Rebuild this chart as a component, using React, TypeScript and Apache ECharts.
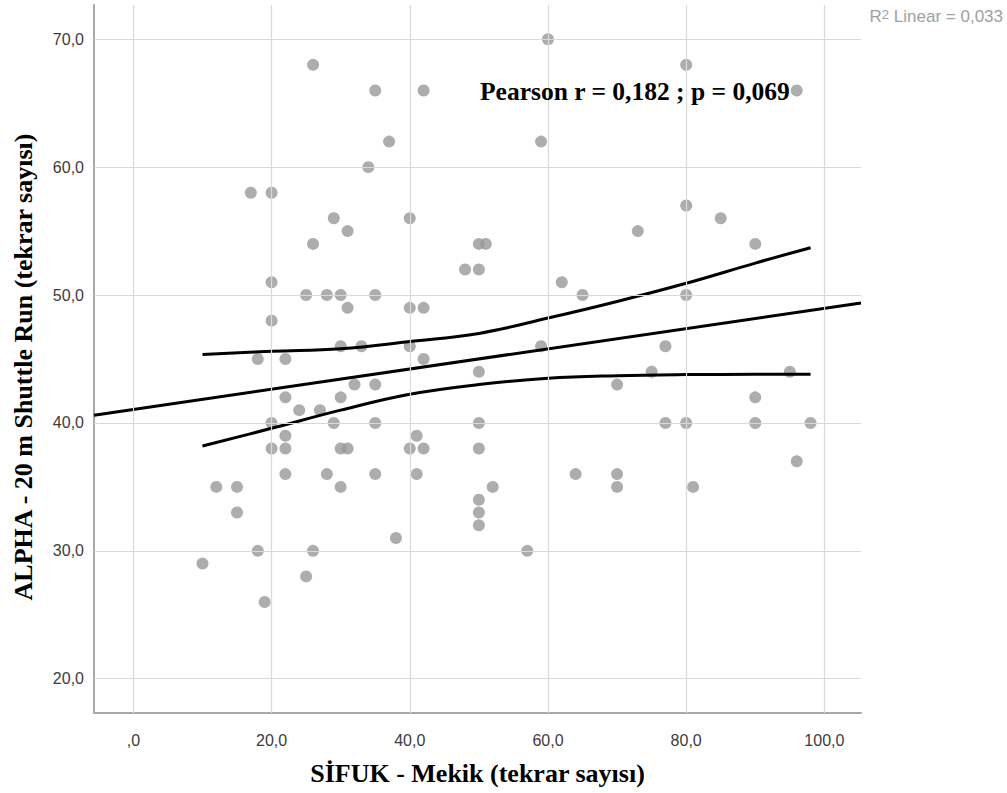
import React, { useEffect, useRef } from "react";
import * as echarts from "echarts";

// Scatter data: SİFUK - Mekik (x) vs ALPHA - 20 m Shuttle Run (y)
const pointsX = [
  26, 35, 42, 37, 34, 17, 20, 29, 31, 26, 40, 50, 51, 48, 50, 20, 25, 28, 30, 35,
  31, 40, 42, 20, 30, 33, 40, 18, 22, 42, 50, 60, 80, 96, 59, 80, 85, 73, 90, 62,
  65, 80, 59, 77, 75, 95, 32, 35, 22, 30, 24, 27, 20, 29, 35, 50, 22, 41, 20, 22,
  30, 31, 40, 42, 50, 22, 28, 35, 41, 12, 15, 30, 52, 15, 50, 50, 50, 38, 18, 26,
  10, 25, 19, 70, 90, 77, 80, 90, 98, 96, 64, 70, 70, 81, 57,
];
const pointsY = [
  68, 66, 66, 62, 60, 58, 58, 56, 55, 54, 56, 54, 54, 52, 52, 51, 50, 50, 50, 50,
  49, 49, 49, 48, 46, 46, 46, 45, 45, 45, 44, 70, 68, 66, 62, 57, 56, 55, 54, 51,
  50, 50, 46, 46, 44, 44, 43, 43, 42, 42, 41, 41, 40, 40, 40, 40, 39, 39, 38, 38,
  38, 38, 38, 38, 38, 36, 36, 36, 36, 35, 35, 35, 35, 33, 34, 33, 32, 31, 30, 30,
  29, 28, 26, 43, 42, 40, 40, 40, 40, 37, 36, 36, 35, 35, 30,
];

// Linear fit line (read at plot edges)
const fitX = [-5.7, 105.3];
const fitY = [40.6, 49.38];

// 95% confidence band of the mean
const ciX = [10, 20, 30, 40, 50, 60, 70, 80, 90, 98];
const ciUpper = [45.35, 45.6, 45.8, 46.36, 47.0, 48.2, 49.5, 50.92, 52.5, 53.7];
const ciLower = [38.2, 39.58, 41.0, 42.24, 43.0, 43.5, 43.7, 43.78, 43.8, 43.8];

// Axis ticks
const xTicks = [0, 20, 40, 60, 80, 100];
const yTicks = [20, 30, 40, 50, 60, 70];

const xTitle = "SİFUK - Mekik (tekrar sayısı)";
const yTitle = "ALPHA - 20 m Shuttle Run (tekrar sayısı)";
const pearsonText = "Pearson r = 0,182 ; p = 0,069";

const fmt = (v: number) => (v === 0 ? ",0" : v.toFixed(1).replace(".", ","));

export default function App() {
  const ref = useRef<HTMLDivElement>(null);

  useEffect(() => {
    if (!ref.current) return;
    const chart = echarts.init(ref.current, undefined, { renderer: "svg" });

    const scatterData = pointsX.map((x, i) => [x, pointsY[i]]);
    const fitData = fitX.map((x, i) => [x, fitY[i]]);
    const upData = ciX.map((x, i) => [x, ciUpper[i]]);
    const loData = ciX.map((x, i) => [x, ciLower[i]]);

    const serif = "'Liberation Serif', 'Times New Roman', serif";
    const sans = "'Liberation Sans', Arial, sans-serif";

    chart.setOption({
      animation: false,
      backgroundColor: "#ffffff",
      grid: { left: 94, right: 146, top: 5, bottom: 80, outerBoundsMode: "none", containLabel: false },
      xAxis: {
        type: "value",
        min: -5.7,
        max: 105.3,
        splitLine: { show: false },
        axisTick: { show: false },
        axisLine: { show: true, onZero: false, lineStyle: { color: "#a8a8a8", width: 2 } },
        axisLabel: {
          customValues: xTicks,
          formatter: fmt,
          color: "#3c3c3c",
          fontFamily: sans,
          fontSize: 16,
          margin: 19,
        },
        name: xTitle,
        nameLocation: "middle",
        nameGap: 47,
        nameTextStyle: {
          fontFamily: serif,
          fontWeight: "bold",
          fontSize: 26,
          color: "#000",
        },
      },
      yAxis: {
        type: "value",
        min: 17.32,
        max: 72.68,
        splitLine: { show: false },
        axisTick: { show: false },
        axisLine: { show: true, onZero: false, lineStyle: { color: "#a8a8a8", width: 2 } },
        axisLabel: {
          customValues: yTicks,
          formatter: fmt,
          color: "#3c3c3c",
          fontFamily: sans,
          fontSize: 16,
          margin: 10,
        },
      },
      graphic: [
        {
          type: "text",
          x: 23,
          y: 367,
          rotation: Math.PI / 2,
          style: {
            text: yTitle,
            fill: "#000",
            font: `bold 26px ${serif}`,
            align: "center",
            verticalAlign: "middle",
          },
        },
        {
          type: "text",
          x: 480,
          y: 91,
          style: {
            text: pearsonText,
            fill: "#000",
            font: `bold 25.5px ${serif}`,
            align: "left",
            verticalAlign: "middle",
          },
          z: 10,
        },
        {
          type: "text",
          right: 4,
          top: 8,
          style: {
            text: "{r|R}{s|2}{r| Linear = 0,033}",
            rich: {
              r: { fontFamily: sans, fontSize: 17, fill: "#a0a0a0", verticalAlign: "bottom" },
              s: { fontFamily: sans, fontSize: 13, fill: "#a0a0a0", verticalAlign: "top" },
            },
          },
        },
      ],
      series: [
        {
          type: "scatter",
          data: [],
          z: 1,
          silent: true,
          markLine: {
            silent: true,
            symbol: ["none", "none"],
            label: { show: false },
            lineStyle: { color: "#d9d9d9", type: "solid", width: 1.2 },
            data: [
              ...xTicks.map((v) => ({ xAxis: v })),
              ...yTicks.map((v) => ({ yAxis: v })),
            ],
          },
        },
        {
          type: "scatter",
          data: scatterData,
          symbol: "circle",
          symbolSize: 12,
          itemStyle: { color: "#999999" },
          z: 2,
        },
        {
          type: "line",
          data: fitData,
          showSymbol: false,
          symbol: "none",
          lineStyle: { color: "#000", width: 3 },
          z: 3,
        },
        {
          type: "line",
          data: upData,
          smooth: 0.4,
          showSymbol: false,
          symbol: "none",
          lineStyle: { color: "#000", width: 3 },
          z: 3,
        },
        {
          type: "line",
          data: loData,
          smooth: 0.4,
          showSymbol: false,
          symbol: "none",
          lineStyle: { color: "#000", width: 3 },
          z: 3,
        },
      ],
    });

    return () => chart.dispose();
  }, []);

  return (
    <div
      ref={ref}
      style={{ position: "fixed", left: 0, top: 0, width: 1007, height: 793 }}
    />
  );
}
